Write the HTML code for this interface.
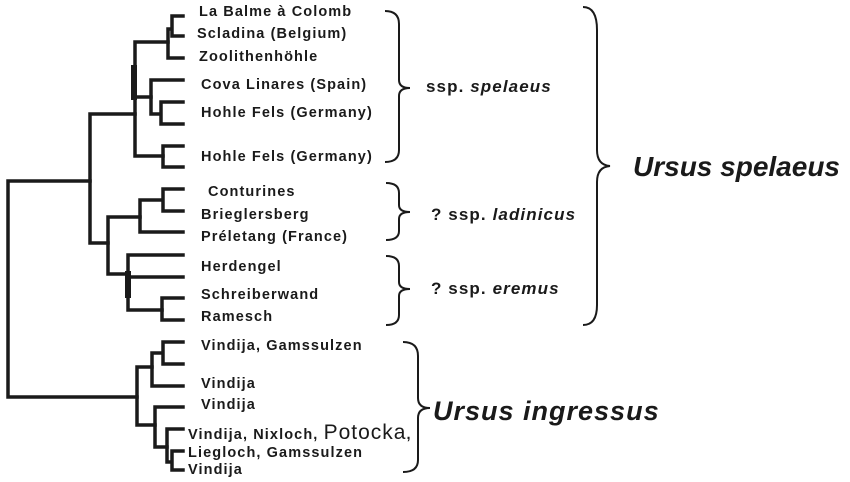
<!DOCTYPE html>
<html><head><meta charset="utf-8"><style>
html,body{margin:0;padding:0;background:#fff;}
svg{display:block;}
text{font-family:"Liberation Sans",Arial,sans-serif;font-weight:bold;fill:#1a1a1a;}
</style></head><body>
<svg width="850" height="482" viewBox="0 0 850 482" xmlns="http://www.w3.org/2000/svg">
<g stroke="#1a1a1a" stroke-width="3.5" fill="none" stroke-linecap="square">
<path d="M8,181 V397 M8,181 H90 M8,397 H137"/>
<path d="M90,114 V243 M90,114 H135 M90,243 H108"/>
<path d="M135,42 V156 M135,42 H168 M135,97 H151 M135,156 H163"/>
<path d="M134,68 V97" stroke-width="6"/>
<path d="M168,29 V58 M168,29 H172 M172,16 V36 M172,16 H183 M172,36 H183 M168,58 H183"/>
<path d="M151,80 V114 M151,80 H183 M151,114 H161 M161,102 V124 M161,102 H183 M161,124 H183"/>
<path d="M163,146 V167 M163,146 H183 M163,167 H183"/>
<path d="M108,217 V274 M108,217 H140 M108,274 H128"/>
<path d="M140,200 V232 M140,200 H163 M140,232 H183 M163,189 V211 M163,189 H183 M163,211 H183"/>
<path d="M128,255 V310 M128,255 H183 M128,277 H183 M128,310 H162"/>
<path d="M128,274 V295" stroke-width="6"/>
<path d="M162,298 V320 M162,298 H183 M162,320 H183"/>
<path d="M137,367 V425 M137,367 H152 M137,425 H155"/>
<path d="M152,353 V386 M152,353 H163 M152,386 H183 M163,342 V364 M163,342 H183 M163,364 H183"/>
<path d="M155,407 V447 M155,407 H183 M155,447 H167"/>
<path d="M167,429 V462 M167,429 H183 M167,462 H172 M172,451 V470 M172,451 H183 M172,470 H183"/>
</g>
<g stroke="#1a1a1a" stroke-width="2" fill="none">
<path d="M385,11 Q399,11 399,24 L399,80 Q399,88 410,88 Q399,88 399,96 L399,150 Q399,162 385,162"/>
<path d="M386,183 Q399,183 399,193 L399,205 Q399,212 410,212 Q399,212 399,219 L399,231 Q399,240 386,240"/>
<path d="M386,256 Q399,256 399,266 L399,282 Q399,289 410,289 Q399,289 399,296 L399,315 Q399,325 386,325"/>
<path d="M403,342 Q418,342 418,356 L418,398 Q418,408 430,408 Q418,408 418,418 L418,460 Q418,472 403,472"/>
<path d="M583,7 Q597,7 597,30 L597,150 Q597,165 610,166 Q597,167 597,182 L597,305 Q597,325 583,325"/>
</g>
<g font-size="14.5" letter-spacing="1.1">
<text x="199" y="16">La Balme à Colomb</text>
<text x="197" y="38">Scladina (Belgium)</text>
<text x="199" y="61">Zoolithenhöhle</text>
<text x="201" y="89">Cova Linares (Spain)</text>
<text x="201" y="117">Hohle Fels (Germany)</text>
<text x="201" y="161">Hohle Fels (Germany)</text>
<text x="208" y="196">Conturines</text>
<text x="201" y="219">Brieglersberg</text>
<text x="201" y="241">Préletang (France)</text>
<text x="201" y="271">Herdengel</text>
<text x="201" y="299">Schreiberwand</text>
<text x="201" y="321">Ramesch</text>
<text x="201" y="350">Vindija, Gamssulzen</text>
<text x="201" y="388">Vindija</text>
<text x="201" y="409">Vindija</text>
<text x="188" y="439">Vindija, Nixloch, <tspan font-size="21" font-weight="normal" letter-spacing="1">Potocka</tspan>,</text>
<text x="188" y="457">Liegloch, Gamssulzen</text>
<text x="188" y="474">Vindija</text>
</g>
<g font-size="17" letter-spacing="1.1">
<text x="426" y="92">ssp. <tspan font-style="italic">spelaeus</tspan></text>
<text x="431" y="220">? ssp. <tspan font-style="italic">ladinicus</tspan></text>
<text x="431" y="294">? ssp. <tspan font-style="italic">eremus</tspan></text>
</g>
<text x="633" y="176" font-size="28" font-style="italic">Ursus spelaeus</text>
<text x="433" y="420" font-size="27" font-style="italic" letter-spacing="1">Ursus ingressus</text>
</svg>
</body></html>
